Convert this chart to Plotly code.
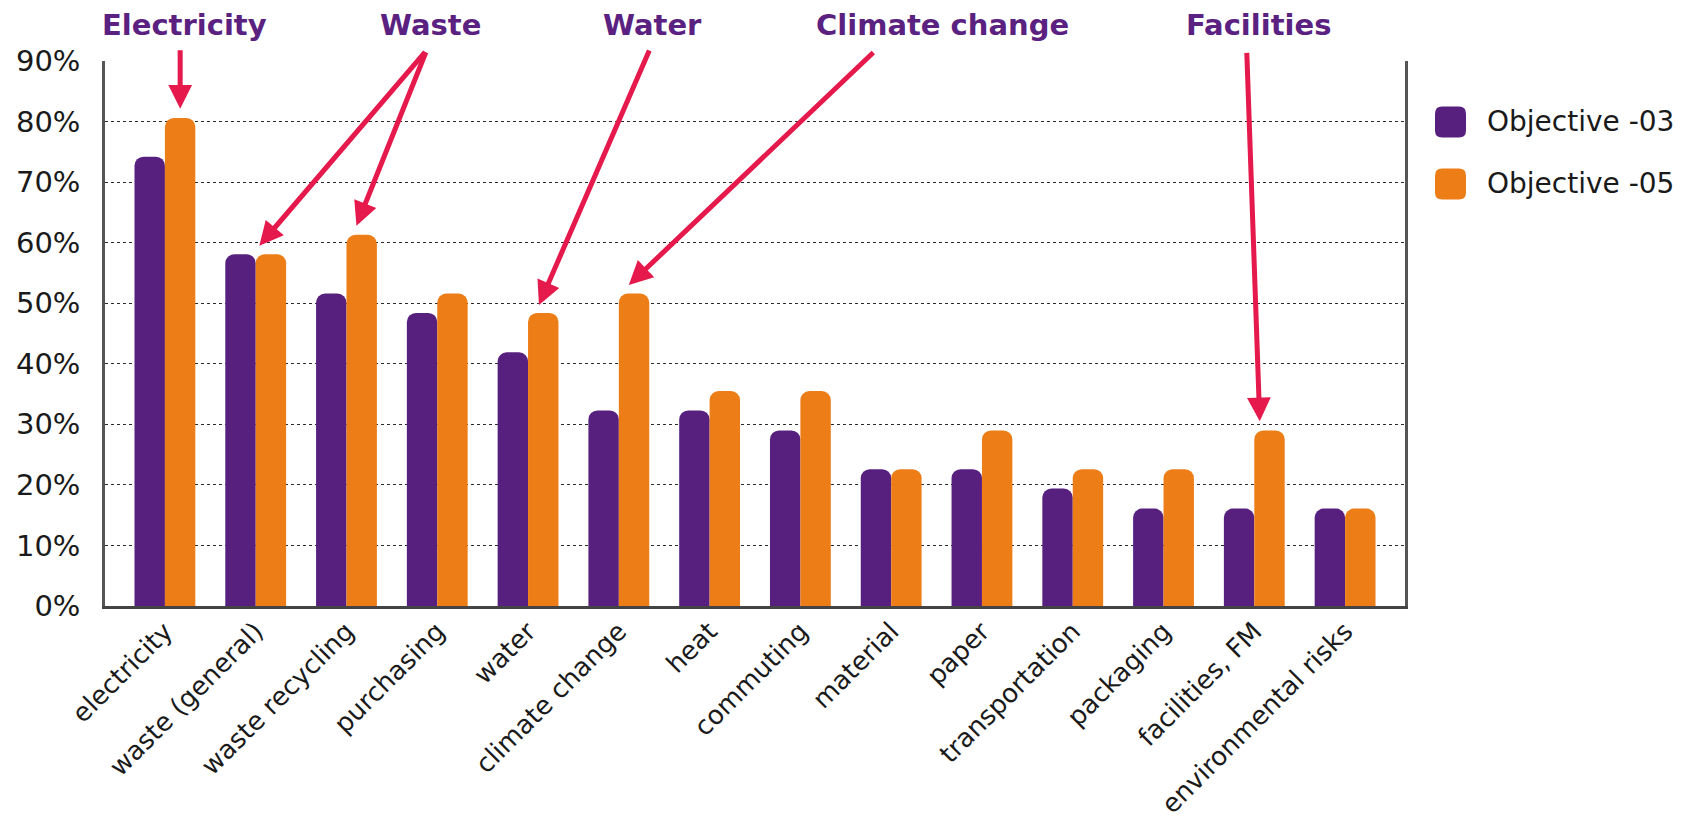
import plotly.graph_objects as go

categories = ["electricity", "waste (general)", "waste recycling", "purchasing", "water",
              "climate change", "heat", "commuting", "material", "paper",
              "transportation", "packaging", "facilities, FM", "environmental risks"]
objective_03 = [74.2, 58.1, 51.6, 48.4, 41.9, 32.3, 32.3, 29.0, 22.6, 22.6, 19.4, 16.1, 16.1, 16.1]
objective_05 = [80.6, 58.1, 61.3, 51.6, 48.4, 51.6, 35.5, 35.5, 22.6, 29.0, 22.6, 22.6, 29.0, 16.1]
series_names = ["Objective -03", "Objective -05"]
y_ticks = [0, 10, 20, 30, 40, 50, 60, 70, 80, 90]

PURPLE = "#58207E"
ORANGE = "#ED7D17"
ARROW = "#E5194C"
TITLE = "#5A2181"
FONT = "DejaVu Sans"

W, H = 1686, 827
L, T = 97, 53
PW, PH = 1300, 545
R, B = W - L - PW, H - T - PH

fig = go.Figure()
fig.add_trace(go.Bar(x=categories, y=objective_03, name=series_names[0],
                     marker=dict(color=PURPLE, cornerradius=9, line=dict(width=0)),
                     showlegend=False))
fig.add_trace(go.Bar(x=categories, y=objective_05, name=series_names[1],
                     marker=dict(color=ORANGE, cornerradius=9, line=dict(width=0)),
                     showlegend=False))


def px_to_paper(px, py):
    return (px - L) / PW, (T + PH - py) / PH


def rounded_rect(x0, y0, x1, y1, r):
    def p(x, y):
        a, b = px_to_paper(x, y)
        return f"{a:.5f},{b:.5f}"
    return (f"M{p(x0 + r, y0)} L{p(x1 - r, y0)} Q{p(x1, y0)} {p(x1, y0 + r)} "
            f"L{p(x1, y1 - r)} Q{p(x1, y1)} {p(x1 - r, y1)} L{p(x0 + r, y1)} "
            f"Q{p(x0, y1)} {p(x0, y1 - r)} L{p(x0, y0 + r)} Q{p(x0, y0)} {p(x0 + r, y0)} Z")


shapes = []
annotations = []
legend_colors = [PURPLE, ORANGE]
legend_rows = [114, 176]
for name, col, cy in zip(series_names, legend_colors, legend_rows):
    shapes.append(dict(type="path", xref="paper", yref="paper",
                       path=rounded_rect(1427, cy - 15.5, 1458, cy + 15.5, 7),
                       fillcolor=col, line=dict(width=0)))
    tx, ty = px_to_paper(1477, cy)
    annotations.append(dict(xref="paper", yref="paper", x=tx, y=ty, text=name,
                            showarrow=False, xanchor="left", yanchor="middle",
                            font=dict(family=FONT, size=28, color="#1a1a1a")))

# topic titles
titles = [("Electricity", 176), ("Waste", 422), ("Water", 644),
          ("Climate change", 934), ("Facilities", 1250)]
for text, cx in titles:
    tx, ty = px_to_paper(cx, 17)
    annotations.append(dict(xref="paper", yref="paper", x=tx, y=ty, text=f"<b>{text}</b>",
                            showarrow=False, xanchor="center", yanchor="middle",
                            font=dict(family=FONT, size=29, color=TITLE)))

# arrows pointing at bars: (category index, series values, dx, dy, ax, ay)
arrows = [
    (0, objective_05, 0.168, 1.5, 0, -60),
    (1, objective_05, 0.04, 1.4, 167, -195),
    (2, objective_05, 0.11, 1.5, 70, -175),
    (4, objective_05, 0.12, 1.3, 111, -256),
    (5, objective_05, 0.11, 1.4, 246, -234),
    (12, objective_05, 0.06, 1.5, -13, -370),
]
for i, vals, dx, dy, ax, ay in arrows:
    annotations.append(dict(xref="x", yref="y", x=i + dx, y=vals[i] + dy, text="",
                            showarrow=True, arrowhead=2, arrowsize=0.95, arrowwidth=5,
                            arrowcolor=ARROW, ax=ax, ay=ay, standoff=0, startstandoff=0))

fig.update_layout(
    width=W, height=H,
    margin=dict(l=L, r=R, t=T, b=B, pad=0),
    paper_bgcolor="white", plot_bgcolor="white",
    barmode="group", bargap=0.33, bargroupgap=0,
    font=dict(family=FONT, color="#1a1a1a"),
    shapes=shapes, annotations=annotations,
    showlegend=False,
    xaxis=dict(type="category", range=[-0.66, 13.66], tickangle=-45,
               tickfont=dict(family=FONT, size=26, color="#1a1a1a"),
               showline=True, linecolor="#444444", linewidth=2.5,
               showgrid=False, ticks="", ticklabelstandoff=-3, fixedrange=True,
               automargin=False),
    yaxis=dict(range=[0, 90], tickvals=y_ticks, ticktext=[f"{v}%" for v in y_ticks],
               tickfont=dict(family=FONT, size=29, color="#1a1a1a"),
               showline=True, linecolor="#555555", linewidth=2.5, mirror=True,
               showgrid=True, gridcolor="#2a2a2a", gridwidth=1.3, griddash="dot",
               zeroline=False, ticks="", ticklabelstandoff=16, fixedrange=True,
               automargin=False),
)

fig.write_html("out.html")
